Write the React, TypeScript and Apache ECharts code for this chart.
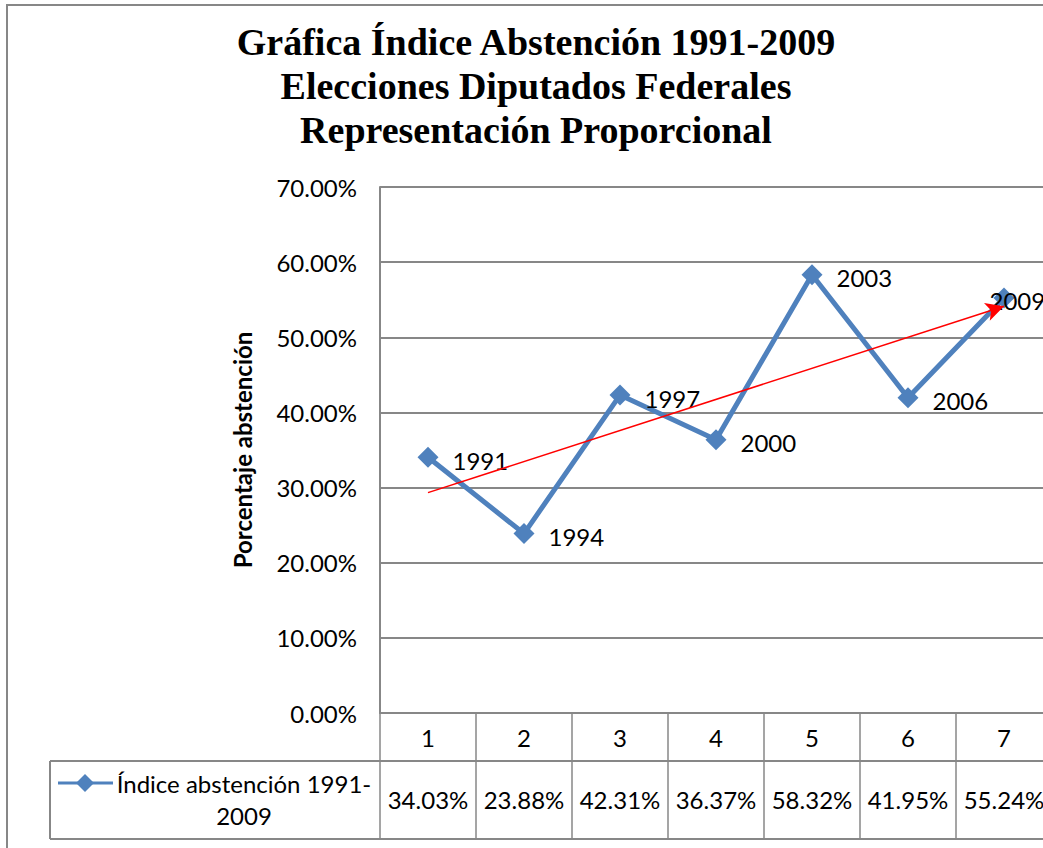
import React, { useEffect, useRef } from "react";
import * as echarts from "echarts";

const categories = ["1", "2", "3", "4", "5", "6", "7"];
const years = ["1991", "1994", "1997", "2000", "2003", "2006", "2009"];
const values = [34.03, 23.88, 42.31, 36.37, 58.32, 41.95, 55.24];
const seriesName = "Índice abstención 1991-2009";
const titleLines = [
  "Gráfica Índice Abstención 1991-2009",
  "Elecciones Diputados Federales",
  "Representación Proporcional",
];
const yAxisName = "Porcentaje abstención";

const GRAY = "#878787";
const BLUE = "#4F81BD";
const FONT = "Lato";
const FS = 24;

function regression(vals: number[]) {
  const n = vals.length;
  const xs = vals.map((_, i) => i + 1);
  const mx = xs.reduce((a, b) => a + b, 0) / n;
  const my = vals.reduce((a, b) => a + b, 0) / n;
  let sxy = 0;
  let sxx = 0;
  for (let i = 0; i < n; i++) {
    sxy += (xs[i] - mx) * (vals[i] - my);
    sxx += (xs[i] - mx) * (xs[i] - mx);
  }
  const slope = sxy / sxx;
  const icpt = my - slope * mx;
  return { start: icpt + slope * 1, end: icpt + slope * n };
}

export default function App() {
  const ref = useRef<HTMLDivElement>(null);
  useEffect(() => {
    if (!ref.current) return;
    const chart = echarts.init(ref.current, undefined, { renderer: "svg" });
    const trend = regression(values);
    const gridLeft = 380;
    const gridTop = 187;
    const gridBottomY = 713;
    const colW = 96;
    const gridW = colW * categories.length;
    const tableRight = gridLeft + gridW;

    chart.setOption({
      animation: false,
      title: {
        text: titleLines.join("\n"),
        left: 531,
        top: 15,
        textAlign: "center",
        textStyle: {
          fontFamily: "Liberation Serif",
          fontWeight: "bold",
          fontSize: 38,
          lineHeight: 44,
          color: "#000",
        },
      },
      grid: {
        left: gridLeft,
        top: gridTop,
        width: gridW,
        height: gridBottomY - gridTop,
        containLabel: false,
      },
      xAxis: [
        {
          type: "category",
          data: categories,
          position: "bottom",
          boundaryGap: true,
          axisLine: { show: true, lineStyle: { color: GRAY, width: 2 } },
          axisTick: {
            show: true,
            interval: 0,
            length: 126,
            lineStyle: { color: GRAY, width: 1.5 },
          },
          axisLabel: {
            interval: 0,
            margin: 12,
            fontFamily: FONT,
            fontSize: FS,
            color: "#000",
          },
          splitLine: { show: false },
        },
        {
          type: "category",
          data: values.map((v) => v.toFixed(2) + "%"),
          position: "bottom",
          offset: 0,
          boundaryGap: true,
          axisLine: { show: false },
          axisTick: { show: false },
          axisLabel: {
            interval: 0,
            margin: 74,
            fontFamily: FONT,
            fontSize: FS,
            color: "#000",
          },
          splitLine: { show: false },
        },
      ],
      yAxis: {
        type: "value",
        min: 0,
        max: 70,
        interval: 10,
        name: yAxisName,
        nameLocation: "middle",
        nameRotate: 90,
        nameGap: 126,
        nameTextStyle: {
          fontFamily: FONT,
          fontWeight: "bold",
          fontSize: 24,
          color: "#000",
        },
        axisLine: { show: true, lineStyle: { color: GRAY, width: 2 } },
        axisTick: { show: false },
        axisLabel: {
          margin: 23,
          fontFamily: FONT,
          fontSize: FS,
          color: "#000",
          formatter: (v: number) => v.toFixed(2) + "%",
        },
        splitLine: { show: true, lineStyle: { color: GRAY, width: 2 } },
      },
      series: [
        {
          name: seriesName,
          type: "line",
          xAxisIndex: 0,
          data: values.map((v, i) =>
            i === values.length - 1
              ? { value: v, label: { offset: [-39, 3] } }
              : { value: v }
          ),
          symbol: "diamond",
          symbolSize: 21,
          itemStyle: { color: BLUE },
          lineStyle: { color: BLUE, width: 5 },
          label: {
            show: true,
            position: "right",
            distance: 14,
            offset: [0, 3],
            fontFamily: FONT,
            fontSize: FS,
            color: "#000",
            formatter: (p: any) => years[p.dataIndex],
          },
          markLine: {
            silent: true,
            symbol: ["none", "arrow"],
            symbolSize: [14, 18],
            label: { show: false },
            lineStyle: { color: "#FF0000", width: 1.5, type: "solid" },
            data: [
              [
                { coord: [0, trend.start] },
                { coord: [categories.length - 1, trend.end] },
              ],
            ],
          },
        },
      ],
      graphic: [
        {
          type: "rect",
          shape: { x: 7, y: 5, width: 1300, height: 1000 },
          style: { fill: "none", stroke: GRAY, lineWidth: 2 },
          z: 0,
        },
        {
          type: "line",
          shape: { x1: 50, y1: 761, x2: tableRight, y2: 761 },
          style: { stroke: GRAY, lineWidth: 2 },
        },
        {
          type: "line",
          shape: { x1: 50, y1: 839, x2: tableRight, y2: 839 },
          style: { stroke: GRAY, lineWidth: 2 },
        },
        {
          type: "line",
          shape: { x1: 50, y1: 761, x2: 50, y2: 839 },
          style: { stroke: GRAY, lineWidth: 2 },
        },
        {
          type: "line",
          shape: { x1: 58, y1: 783, x2: 113, y2: 783 },
          style: { stroke: BLUE, lineWidth: 3 },
        },
        {
          type: "polygon",
          shape: {
            points: [
              [85, 774],
              [94, 783],
              [85, 792],
              [76, 783],
            ],
          },
          style: { fill: BLUE },
        },
        {
          type: "text",
          x: 244,
          y: 799,
          style: {
            text: "Índice abstención 1991-\n2009",
            fontFamily: FONT,
            fontSize: FS,
            lineHeight: 32,
            fill: "#000",
            align: "center",
            verticalAlign: "middle",
          },
        },
      ],
    });
    return () => chart.dispose();
  }, []);

  return (
    <div
      style={{
        position: "fixed",
        left: 0,
        top: 0,
        width: 1043,
        height: 848,
        overflow: "hidden",
        background: "#fff",
      }}
    >
      <div ref={ref} style={{ width: 1100, height: 860 }} />
    </div>
  );
}
